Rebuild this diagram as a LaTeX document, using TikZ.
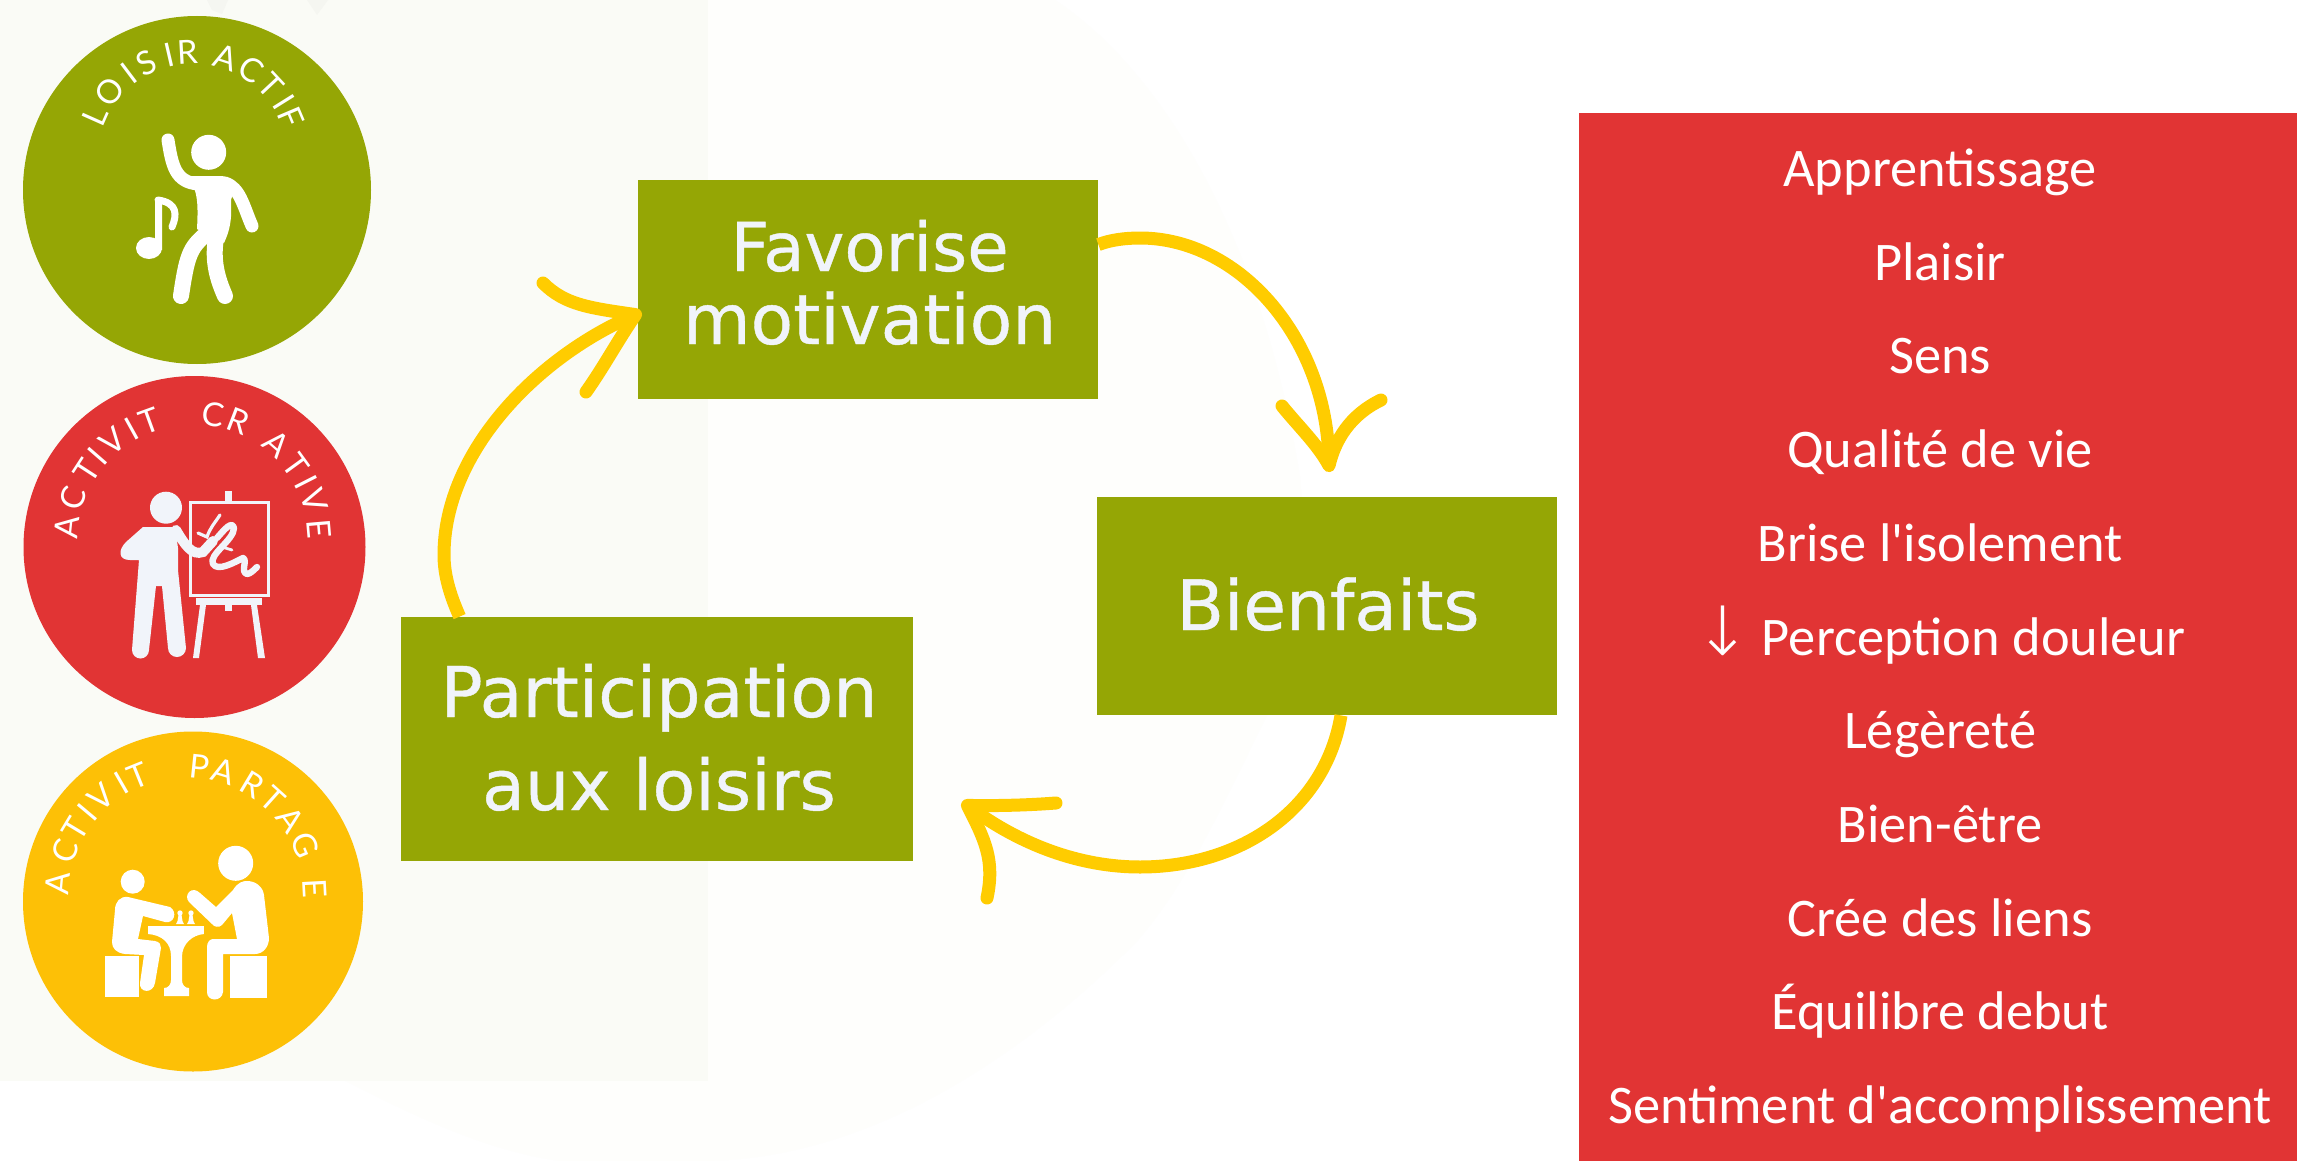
\documentclass[tikz,border=0pt]{standalone}
\usepackage{fontspec}
\usetikzlibrary{calc}
\setmainfont{DejaVu Sans}[FakeBold=0.6]
\newfontfamily\listfont{Carlito}
\newfontfamily\arcfont{Lato}
\newfontfamily\arrowfont{DejaVu Sans}[UprightFont=* ExtraLight]
\definecolor{bgwhite}{HTML}{FEFEFC}
\definecolor{panelbg}{HTML}{FAFBF6}
\definecolor{paneltick}{HTML}{F5F6F1}
\definecolor{olive}{HTML}{95A605}
\definecolor{redbox}{HTML}{E13434}
\definecolor{amber}{HTML}{FDC006}
\definecolor{arrowy}{HTML}{FFCC00}
\definecolor{ink}{HTML}{F1F4FA}
\tikzset{
  x=0.5pt,y=-0.5pt,
  box/.style={fill=olive,inner sep=0pt},
  boxtext/.style={text=ink,inner sep=0pt,anchor=base,font=\fontsize{34.7}{38}\selectfont},
  listitem/.style={text=white,inner sep=0pt,anchor=base,font=\listfont\fontsize{27.2}{32}\selectfont},
  arrowline/.style={draw=arrowy,line width=6.5pt,line cap=round,line join=round},
  arcletter/.style={text=white,inner sep=0pt,font=\arcfont\fontsize{16.5}{18}\selectfont},
  icon/.style={fill=white,draw=none},
  limb/.style={draw=white,line cap=round,line join=round},
}
\newcommand{\arcword}[4]{%
  \foreach \l/\a in {#4} {
    \node[arcletter,rotate=\a] at ({#1-#3*sin(\a)},{#2-#3*cos(\a)}) {\l};
  }
}
\begin{document}
\begin{tikzpicture}
\useasboundingbox (0,0) rectangle (2297,1161);
\fill[white] (0,0) rectangle (2297,1161);
% faint backdrop
\fill[bgwhite] (1055,0) .. controls (1160,70) and (1260,230) .. (1300,477)
  .. controls (1310,600) and (1300,640) .. (1267,715) .. controls (1230,790) and (1190,880) .. (1138,940)
  .. controls (1040,1040) and (880,1161) .. (700,1161) -- (560,1161) .. controls (480,1150) and (400,1110) .. (300,1057) -- (300,0) -- cycle;
\fill[panelbg] (0,0) rectangle (708,1081);
\fill[paneltick] (207,0) -- (228,0) -- (222,14) -- (212,10) -- cycle;
\fill[paneltick] (307,0) -- (328,0) -- (317,15) -- cycle;
% badges
\fill[olive] (197,190) circle [radius=174];
\fill[redbox] (194.5,547) circle [radius=171];
\fill[amber] (193,901.5) circle [radius=170];
\arcword{193}{159}{107}{L/66,O/51,I/37,S/26,I/13,R/3,A/-18,C/-33,T/-47,I/-58,F/-67}
\arcword{193}{540}{127}{A/84,C/71,T/57,I/49,V/39,I/29,T/20,C/-9,R/-21,A/-41,T/-54,I/-63,V/-72,E/-85}
\arcword{186}{895}{129}{A/85,C/70,T/59,I/50,V/41,I/30,T/22,P/-6,A/-17,R/-31,T/-42,A/-54,G/-67,E/-87}
% dancer
\fill[icon] (208.7,152.3) circle [radius=17.5];
\draw[limb,line width=6.5pt] (168,140) .. controls (172,165) and (175,182) .. (198,184);
\draw[limb,line width=6.5pt] (225,183) .. controls (240,188) and (243,205) .. (252,226);
\fill[icon] (192,176) -- (222,176) .. controls (232,177) and (235,190) .. (231,200) .. controls (232,220) and (230,230) .. (224,243)
  -- (197,229) .. controls (198,210) and (198,195) .. (193,186) -- cycle;
\draw[limb,line width=8pt] (205,235) .. controls (190,248) and (187,255) .. (181,296);
\draw[limb,line width=8pt] (216,238) .. controls (212,262) and (218,280) .. (225,296);
\fill[icon] (149,248) ellipse [x radius=13,y radius=11];
\fill[icon] (155,199) -- (162,197) -- (162,250) -- (155,250) -- cycle;
\draw[limb,line width=3.5pt] (158,200) .. controls (178,203) and (177,215) .. (172,227);
% painter
\begin{scope}[ink]
\fill (166,507.7) circle [radius=16];
\fill (143,527) -- (175,527) -- (178,548) -- (178,570) -- (186,648) arc[start angle=0,end angle=180,radius=9] -- (162,586) -- (156,586) -- (149,650) arc[start angle=0,end angle=180,radius=8.5]
  -- (139,560) -- (130,560) .. controls (118,560) and (118,550) .. (126,542) -- cycle;
\draw[line width=5pt,line cap=round] (176,530) .. controls (185,545) and (192,556) .. (203,552) -- (213,541);
\draw[line width=1.5pt] (190,502) rectangle (268,595);
\fill (225.3,491) rectangle (231.7,502);
\fill (196,598) rectangle (262,605);
\fill (225,605) rectangle (232,611);
\fill (200,605) -- (206,605) -- (199,658) -- (193,658) -- cycle;
\fill (251,605) -- (257,605) -- (265,658) -- (258,658) -- cycle;
\draw[line width=3.2pt,line cap=round,line join=round] (217,538) .. controls (224,530) and (232,520) .. (234,528) .. controls (234,540) and (208,555) .. (213,564) .. controls (218,572) and (235,562) .. (243,558) .. controls (248,560) and (240,572) .. (247,574) .. controls (250,574) and (254,570) .. (257,567);
\draw[line width=1.6pt,line cap=round] (198,533) -- (207,537) .. controls (210,528) and (214,524) .. (220,515);
\draw[line width=1.4pt,line cap=round] (222,547) -- (232,550);
\end{scope}
% chess players
\fill[icon] (132.7,881.7) circle [radius=12];
\fill[icon] (235.7,863.3) circle [radius=17.5];
\fill[icon] (105,956) rectangle (139,997);
\fill[icon] (230,956) rectangle (267,997.7);
\fill[icon] (115,910) .. controls (115,902) and (120,896) .. (128,897) -- (170,907) .. controls (178,912) and (174,924) .. (165,922) -- (143,916) -- (138,939) -- (155,941) .. controls (160,942) and (161,945) .. (161,948)
  -- (155,983) .. controls (153,994) and (139,993) .. (140,983) -- (144,955) -- (125,954) .. controls (116,953) and (112,948) .. (112,942) -- cycle;
\fill[icon] (233,890) .. controls (238,882) and (243,881) .. (247,881) .. controls (256,881) and (263,887) .. (264,895) -- (269,938) .. controls (269,947) and (263,954) .. (255,954) -- (223,954) -- (223,992)
  .. controls (222,1002) and (207,1002) .. (207,992) -- (207,947) .. controls (207,942) and (210,939) .. (213,939) -- (237,939) -- (232,913) -- (222,925) .. controls (219,928) and (214,927) .. (212,924)
  -- (189,902) .. controls (183,895) and (192,885) .. (200,893) -- (216,907) -- cycle;
\fill[icon] (148,925.7) rectangle (204,934);
\fill[icon] (148,934) .. controls (162,935) and (171,943) .. (171,956) -- (171,980) .. controls (171,985) and (168,988) .. (164,988) -- (164,996) -- (189,996) -- (189,988) .. controls (185,988) and (182,985) .. (182,980) -- (182,957) .. controls (182,944) and (192,935) .. (204,934) -- cycle;
\foreach \p in {180,191} {
  \fill[icon] (\p,913) circle [radius=2.7];
  \fill[icon] (\p-1.5,915) -- (\p+1.5,915) -- (\p+2.5,921) -- (\p+4,924) -- (\p-4,924) -- (\p-2.5,921) -- cycle;
}
% main boxes
\node[box,minimum width=230pt,minimum height=109.5pt] (fav) at (868,289.5) {};
\node[box,minimum width=230pt,minimum height=109pt] (bien) at (1327,606) {};
\node[box,minimum width=256pt,minimum height=122pt] (part) at (657,739) {};
\node[boxtext,font=\fontsize{33.7}{38}\selectfont] (favtxt1) at (869.6,271) {Favorise};
\node[boxtext] (favtxt2) at (869.6,344) {motivation};
\node[boxtext] (bientxt) at (1328,630) {Bienfaits};
\node[boxtext,font=\fontsize{35}{38}\selectfont] (parttxt1) at (659,717) {Participation};
\node[boxtext,font=\fontsize{35}{38}\selectfont] (parttxt2) at (659,810) {aux loisirs};
% red list
\fill[redbox] (1579,113) rectangle (2297,1161);
\foreach \t/\n [count=\i from 0] in {Apprentissage/a,Plaisir/b,Sens/c,Qualité de vie/d,Brise l'isolement/e,{{\arrowfont\fontsize{34}{36}\selectfont ↓}\hspace{-1pt} Perception douleur}/f,Légèreté/g,Bien-être/h,Crée des liens/i,Équilibre debut/j,Sentiment d'accomplissement/k} {
  \node[listitem] (item\n) at (1940,{186.5+93.7*\i}) {\t};
}
% connectors
\coordinate (a1) at ($(part.north west)+(59,0)$);
\coordinate (t1) at ($(fav.north west)+(-2,135)$);
\draw[arrowline,line cap=butt] (a1) .. controls (450,595) and (444,575) .. (444,555) .. controls (444,450) and (540,355) .. (t1);
\draw[arrowline] (543,283) .. controls (565,305) and (590,308) .. (t1) .. controls (615,345) and (605,365) .. (586,392);
\coordinate (a2) at ($(fav.north east)+(0,65)$);
\coordinate (t2) at ($(bien.north)+(2,-31)$);
\draw[arrowline,line cap=butt] (a2) .. controls (1110,240) and (1125,238) .. (1140,238) .. controls (1240,238) and (1329,340) .. (t2);
\draw[arrowline] (1282,406) .. controls (1300,428) and (1318,445) .. (t2) .. controls (1335,440) and (1350,415) .. (1381,400);
\coordinate (a3) at ($(bien.south)+(14,0)$);
\coordinate (t3) at ($(part.south east)+(54,-56)$);
\draw[arrowline,line cap=butt] (a3) .. controls (1325,810) and (1240,867) .. (1140,867) .. controls (1080,867) and (1020,845) .. (t3);
\draw[arrowline] (1056,803) .. controls (1030,805) and (1000,806) .. (t3) .. controls (985,840) and (995,860) .. (987,898);
\end{tikzpicture}
\end{document}
